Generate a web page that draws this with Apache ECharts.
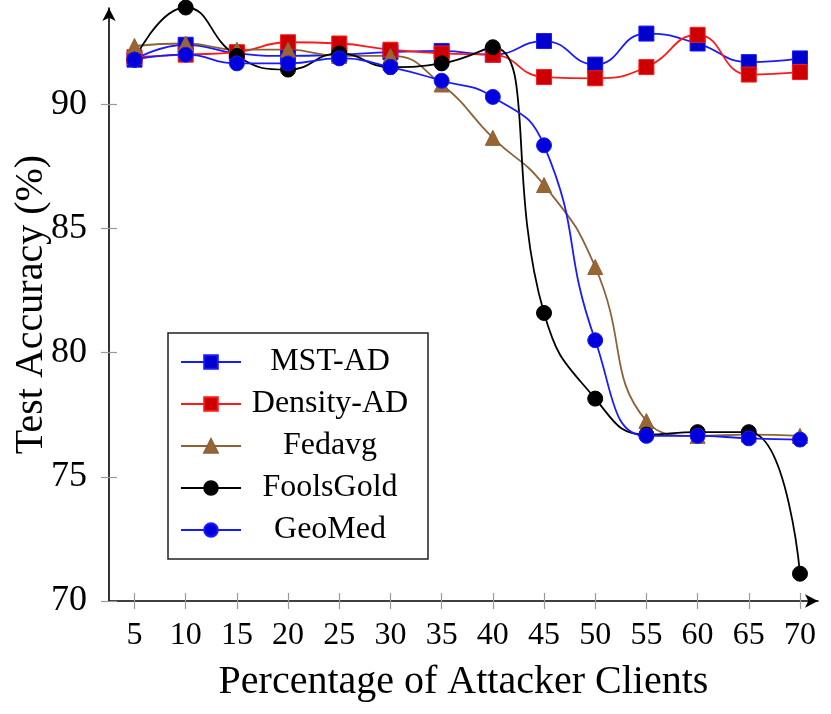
<!DOCTYPE html>
<html>
<head>
<meta charset="utf-8">
<script src="https://cdn.jsdelivr.net/npm/echarts@6.0.0/dist/echarts.min.js"></script>
<style>
  html, body { margin: 0; padding: 0; background: #fff; }
  #main { width: 831px; height: 714px; }
</style>
</head>
<body>
<div id="main"></div>
<script>
// percentage of attacker clients
var attackers = [5, 10, 15, 20, 25, 30, 35, 40, 45, 50, 55, 60, 65, 70];
var yTicks = [70, 75, 80, 85, 90];

// test accuracy (%)
var mstAD     = [91.8, 92.4, 92.05, 91.95, 92.0, 92.1, 92.15, 92.0, 92.55, 91.6, 92.85, 92.45, 91.7, 91.85];
var densityAD = [91.9, 92.0, 92.1, 92.5, 92.45, 92.2, 92.05, 92.0, 91.1, 91.05, 91.5, 92.8, 91.2, 91.3];
var fedavg    = [92.35, 92.45, 92.2, 92.2, 91.95, 91.95, 90.8, 88.65, 86.75, 83.45, 77.25, 76.65, 76.7, 76.65];
var foolsGold = [91.8, 93.9, 91.95, 91.4, 92.05, 91.5, 91.65, 92.3, 81.6, 78.15, 76.7, 76.8, 76.8, 71.1];
var geoMed    = [91.8, 92.0, 91.65, 91.65, 91.85, 91.5, 90.95, 90.3, 88.35, 80.5, 76.65, 76.65, 76.55, 76.5];

var serif = "'Liberation Serif', 'DejaVu Serif', serif";

function pairs(vals) {
    return attackers.map(function (x, i) { return [x, vals[i]]; });
}

function mkSeries(name, vals, symbol, line, fill, size) {
    return {
        name: name,
        type: 'line',
        data: pairs(vals),
        smooth: 0.5,
        clip: false,
        symbol: symbol,
        symbolSize: size,
        lineStyle: { color: line, width: 1.8 },
        itemStyle: { color: fill, borderColor: line, borderWidth: 1 },
        emphasis: { disabled: true }
    };
}

var myChart = echarts.init(document.getElementById('main'));

var tickStyle = { show: true, length: 8, lineStyle: { color: '#9a9a9a', width: 1.2 } };

var option = {
    animation: false,
    grid: { left: 109, right: 13, top: 8, bottom: 113, outerBoundsMode: 'none', containLabel: false },
    legend: {
        orient: 'vertical',
        left: 168,
        top: 333,
        padding: [13, 14, 13, 12],
        itemWidth: 60,
        itemHeight: 17,
        itemGap: 10,
        borderColor: '#222',
        borderWidth: 1.5,
        backgroundColor: '#fff',
        formatter: '{t|{name}}',
        textStyle: {
            rich: {
                t: { width: 168, align: 'center', fontSize: 32, lineHeight: 30, fontFamily: serif, color: '#000' }
            }
        },
        data: ['MST-AD', 'Density-AD', 'Fedavg', 'FoolsGold', 'GeoMed']
    },
    xAxis: [{
        type: 'value',
        min: 2.51,
        max: 71.76,
        name: 'Percentage of Attacker Clients',
        nameLocation: 'middle',
        nameGap: 61,
        nameMoveOverlap: false,
        nameTextStyle: { fontSize: 40, fontFamily: serif, color: '#000' },
        splitLine: { show: false },
        axisLine: { show: true, lineStyle: { color: '#000', width: 1.6 }, symbol: ['none', 'arrow'], symbolSize: [10, 13] },
        axisTick: Object.assign({ customValues: attackers }, tickStyle),
        axisLabel: { customValues: attackers, margin: 19, fontSize: 32, fontFamily: serif, color: '#000' }
    }, {
        // inner half of the crossing ticks
        type: 'value',
        position: 'bottom',
        min: 2.51,
        max: 71.76,
        splitLine: { show: false },
        axisLine: { show: false },
        axisTick: Object.assign({ customValues: attackers, inside: true }, tickStyle),
        axisLabel: { show: false }
    }],
    yAxis: [{
        type: 'value',
        min: 70,
        max: 93.88,
        name: 'Test Accuracy (%)',
        nameLocation: 'middle',
        nameGap: 58,
        nameMoveOverlap: false,
        nameTextStyle: { fontSize: 40, fontFamily: serif, color: '#000' },
        splitLine: { show: false },
        axisLine: { show: true, lineStyle: { color: '#000', width: 1.6 }, symbol: ['none', 'arrow'], symbolSize: [10, 13] },
        axisTick: Object.assign({ customValues: yTicks }, tickStyle),
        axisLabel: { customValues: yTicks, margin: 22, fontSize: 36, fontFamily: serif, color: '#000' }
    }, {
        type: 'value',
        position: 'left',
        min: 70,
        max: 93.88,
        splitLine: { show: false },
        axisLine: { show: false },
        axisTick: Object.assign({ customValues: yTicks, inside: true }, tickStyle),
        axisLabel: { show: false }
    }],
    series: [
        mkSeries('MST-AD', mstAD, 'rect', '#1a1aff', '#0000cc', 15),
        mkSeries('Density-AD', densityAD, 'rect', '#ff1a1a', '#cc0000', 15),
        mkSeries('Fedavg', fedavg, 'triangle', '#8c6239', '#996633', 15),
        mkSeries('FoolsGold', foolsGold, 'circle', '#000000', '#000000', 15),
        mkSeries('GeoMed', geoMed, 'circle', '#1a1aff', '#0000dd', 15)
    ]
};

myChart.setOption(option);
</script>
</body>
</html>
